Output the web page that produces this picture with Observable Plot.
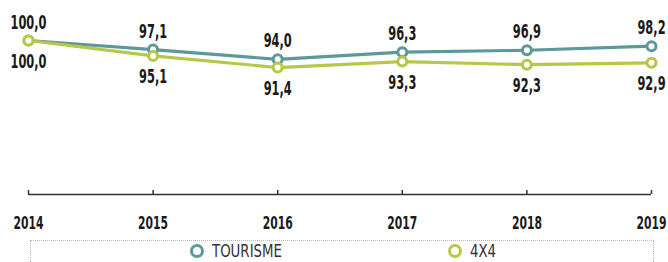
<!DOCTYPE html>
<html>
<head>
<meta charset="utf-8">
<script src="https://cdn.jsdelivr.net/npm/d3@7"></script>
<script src="https://cdn.jsdelivr.net/npm/@observablehq/plot@0.6"></script>
<style>
  html, body { margin: 0; padding: 0; background: #fff; overflow: hidden; }
  #chart svg { display: block; overflow: visible; }
  .legend {
    position: relative;
    margin: 8px 0 0 30px;
    width: 624px;
    height: 30px;
    border: 1px dotted #b5b5b5;
    box-sizing: border-box;
    font-family: "DejaVu Sans", sans-serif;
    font-size: 18px;
    color: #333;
  }
  .item { position: absolute; top: 1px; display: flex; align-items: center; white-space: nowrap; height: 18px; }
  .item span { display: inline-block; transform: scaleX(0.74); transform-origin: left center; margin-left: 6px; line-height: 18px; }
</style>
</head>
<body>
<div id="chart"></div>
<div class="legend" id="legend"></div>
<script>
const years = [2014, 2015, 2016, 2017, 2018, 2019];
const seriesNames = ["TOURISME", "4X4"];
const tourisme = [100.0, 97.1, 94.0, 96.3, 96.9, 98.2];
const quatreX4 = [100.0, 95.1, 91.4, 93.3, 92.3, 92.9];
const colors = ["#5c9999", "#b7c749"];

const data = [];
years.forEach((y, i) => {
  data.push({year: y, value: tourisme[i], series: seriesNames[0]});
  data.push({year: y, value: quatreX4[i], series: seriesNames[1]});
});
const fmt = v => v.toFixed(1).replace(".", ",");
const font = '"DejaVu Sans", sans-serif';

const chart = Plot.plot({
  width: 668,
  height: 232,
  marginLeft: 28,
  marginRight: 17,
  marginTop: 40,
  marginBottom: 38,
  style: {fontFamily: font, background: "transparent", overflow: "visible"},
  x: {domain: [2014, 2019], label: null},
  y: {domain: [51, 100], axis: null},
  color: {domain: seriesNames, range: colors},
  marks: [
    Plot.ruleY([51], {stroke: "#333", strokeWidth: 1.5}),
    Plot.tickX(years, {x: d => d, stroke: "#333", strokeWidth: 1.5, insetTop: 150}),
    Plot.axisX(years, {tickSize: 0, tickPadding: 22, tickFormat: d => String(d), fontSize: 18, fontWeight: "bold", fill: "#1a1a1a"}),
    Plot.lineY(data, {x: "year", y: "value", stroke: "series", strokeWidth: 3.2}),
    Plot.dot(data, {x: "year", y: "value", stroke: "series", fill: "white", r: 4.5, strokeWidth: 3}),
    Plot.text(data.filter(d => d.series === seriesNames[0]), {x: "year", y: "value", text: d => fmt(d.value), dy: -18, fontSize: 19, fontWeight: "bold", fill: "#1a1a1a"}),
    Plot.text(data.filter(d => d.series === seriesNames[1]), {x: "year", y: "value", text: d => fmt(d.value), dy: 21, fontSize: 19, fontWeight: "bold", fill: "#1a1a1a"})
  ]
});
// condensed look: squeeze glyphs horizontally around each text anchor
chart.querySelectorAll("text").forEach(t => {
  const tr = t.getAttribute("transform");
  if (tr) t.setAttribute("transform", tr + " scale(0.6,1)");
});
document.getElementById("chart").appendChild(chart);

const legend = document.getElementById("legend");
const lefts = [157, 415];
seriesNames.forEach((name, i) => {
  const it = document.createElement("div");
  it.className = "item";
  it.style.left = lefts[i] + "px";
  it.innerHTML = `<svg width="18" height="18"><circle cx="9" cy="9" r="5.5" fill="white" stroke="${colors[i]}" stroke-width="3"/></svg><span>${name}</span>`;
  legend.appendChild(it);
});
</script>
</body>
</html>
